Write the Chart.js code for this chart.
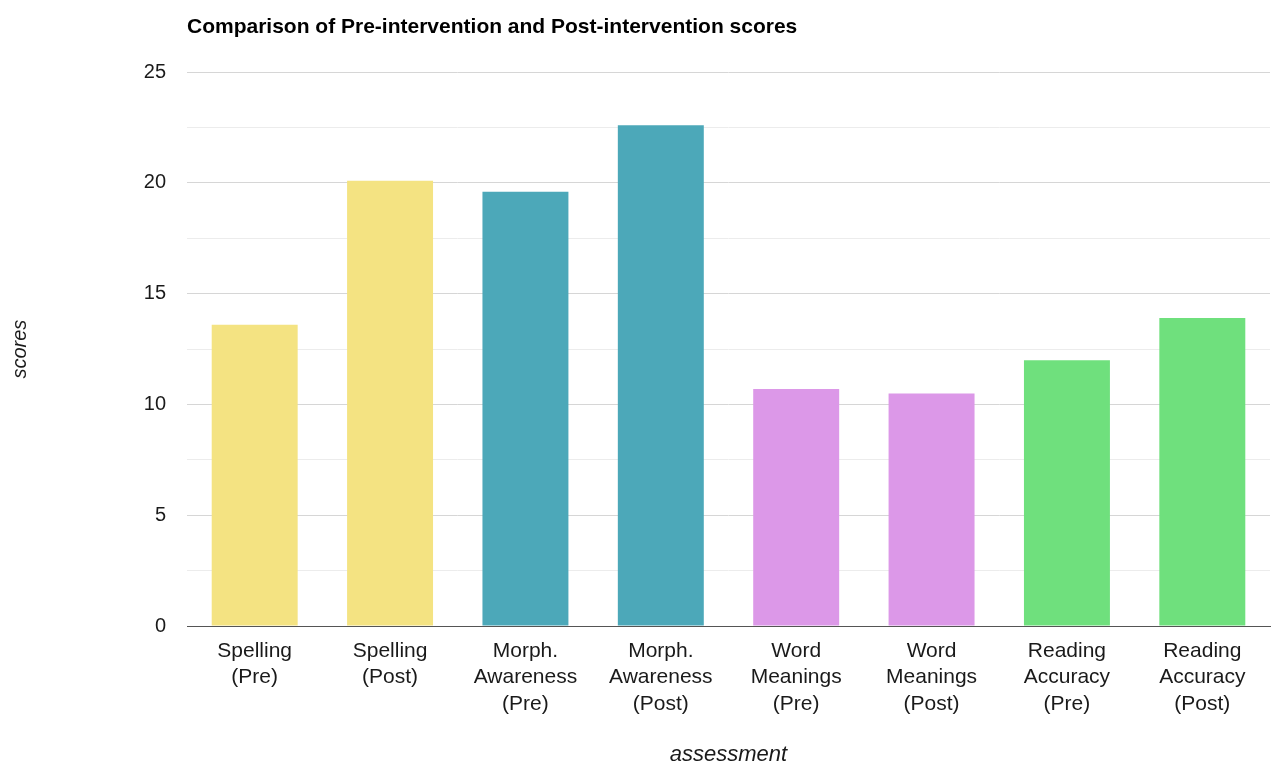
<!DOCTYPE html>
<html lang="en">
<head>
    <meta charset="UTF-8">
    <title>Pre vs Post intervention scores</title>
    <script src="https://cdn.jsdelivr.net/npm/chart.js@4.4.0/dist/chart.umd.min.js"></script>
    <style>
        html, body { margin: 0; padding: 0; background: #fff; }
        #wrap { width: 1273px; height: 768px; }
    </style>
</head>
<body>
    <div id="wrap"><canvas id="scoreChart" width="1273" height="768"></canvas></div>

    <script>
        const assessments = [
            ["Spelling", "(Pre)"], ["Spelling", "(Post)"],
            ["Morph.", "Awareness", "(Pre)"], ["Morph.", "Awareness", "(Post)"],
            ["Word", "Meanings", "(Pre)"], ["Word", "Meanings", "(Post)"],
            ["Reading", "Accuracy", "(Pre)"], ["Reading", "Accuracy", "(Post)"]
        ];
        const scores = [13.6, 20.1, 19.6, 22.6, 10.7, 10.5, 12.0, 13.9];
        const yTicks = [0, 5, 10, 15, 20, 25];

        const barColors = ["#f4e382", "#f4e382", "#4ca8b9", "#4ca8b9", "#dc98e8", "#dc98e8", "#6fe07d", "#6fe07d"];
        const font = "'Liberation Sans', Arial, sans-serif";

        const scoreChart = new Chart(document.getElementById("scoreChart"), {
            type: "bar",
            data: {
                labels: assessments,
                datasets: [
                    {label: "scores", data: scores, backgroundColor: barColors, borderWidth: 0,
                     categoryPercentage: 1, barPercentage: 0.635}
                ]
            },
            options: {
                responsive: false,
                animation: false,
                layout: {padding: {left: 0, right: 3, top: 0, bottom: 0}},
                plugins: {
                    legend: {display: false},
                    tooltip: {enabled: false},
                    title: {
                        display: true,
                        text: "Comparison of Pre-intervention and Post-intervention scores",
                        align: "start",
                        fullSize: false,
                        color: "#000",
                        font: {family: font, size: 21, weight: "bold"},
                        padding: {top: 15, bottom: 32}
                    }
                },
                scales: {
                    x: {
                        grid: {display: false},
                        border: {display: true, color: "#555", width: 1},
                        ticks: {color: "#1a1a1a", font: {family: font, size: 21, lineHeight: 1.26}, padding: 4, maxRotation: 0, autoSkip: false},
                        title: {display: true, text: "assessment", color: "#1a1a1a",
                                font: {family: font, size: 22, style: "italic"}, padding: {top: 0, bottom: 0}},
                        afterFit: (scale) => { scale.height = 142; }
                    },
                    y: {
                        min: 0, max: 25,
                        ticks: {
                            stepSize: 2.5,
                            color: "#1a1a1a",
                            font: {family: font, size: 20},
                            padding: 21,
                            callback: (v) => yTicks.includes(v) ? String(v) : ""
                        },
                        grid: {
                            drawTicks: false,
                            color: (ctx) => yTicks.includes(ctx.tick.value) ? "#d6d6d6" : "#ececec",
                            lineWidth: 1
                        },
                        border: {display: false},
                        title: {display: true, text: "scores", color: "#1a1a1a",
                                font: {family: font, size: 20, style: "italic"}, padding: {top: 8, bottom: 0}},
                        afterFit: (scale) => { scale.width = 187; }
                    }
                }
            }
        });
    </script>
</body>
</html>
